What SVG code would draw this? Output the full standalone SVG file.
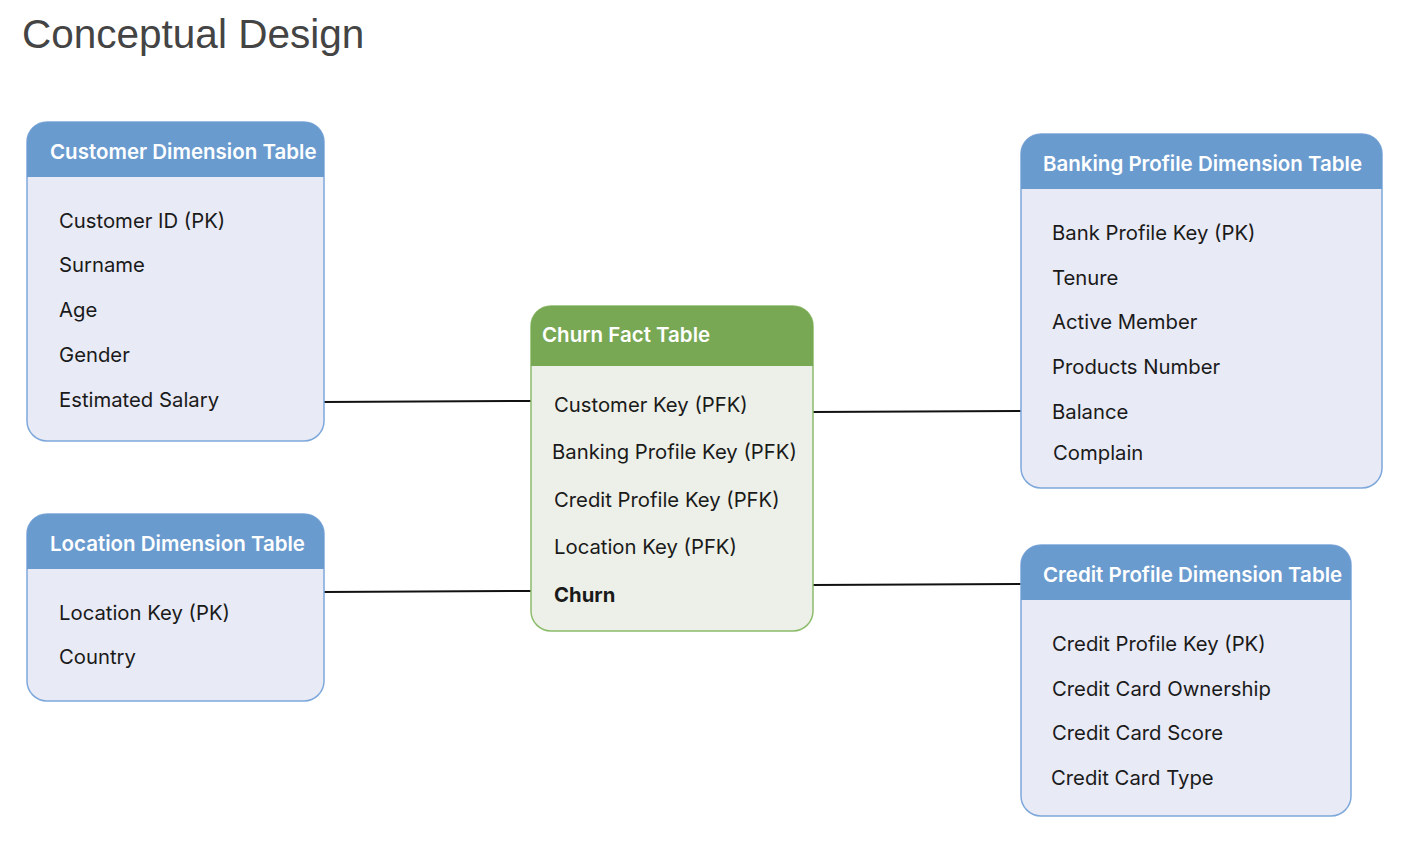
<svg xmlns="http://www.w3.org/2000/svg" width="1402" height="842" viewBox="0 0 1402 842">
<style>
.title{font-family:"Liberation Sans",Arial,sans-serif;font-size:40.5px;fill:#444}
.hb{fill:#6a9bcf}
.bb{fill:#e8eaf5;stroke:#7ea8db;stroke-width:1.5}
.hg{fill:#78a854}
.bg{fill:#edf0e8;stroke:#8cbc6c;stroke-width:1.5}
.ht{font-family:Inter,"Noto Sans",sans-serif;font-size:20.5px;font-weight:600;fill:#fff}
.it{font-family:Inter,"Noto Sans",sans-serif;font-size:20.3px;fill:#1a1a1a}
.b{font-weight:700}
.conn{stroke:#111;stroke-width:2;fill:none}
</style>
<rect width="1402" height="842" fill="#fff"/>
<text class="title" x="22" y="48">Conceptual Design</text>
<g id="connectors">
<line class="conn" x1="324" y1="402" x2="531" y2="401"/>
<line class="conn" x1="324" y1="592" x2="531" y2="591"/>
<line class="conn" x1="813" y1="412" x2="1021" y2="411"/>
<line class="conn" x1="813" y1="585" x2="1021" y2="584"/>
</g>
<g id="customer">
<rect class="bb" x="27" y="122" width="297" height="319" rx="20"/>
<path class="hb" d="M27,177 V142 A20,20 0 0 1 47,122 H304 A20,20 0 0 1 324,142 V177 Z"/>
<text class="ht" x="50" y="159">Customer Dimension Table</text>
<text class="it" x="59" y="228">Customer ID (PK)</text>
<text class="it" x="59" y="272">Surname</text>
<text class="it" x="59" y="317">Age</text>
<text class="it" x="59" y="362">Gender</text>
<text class="it" x="59" y="407">Estimated Salary</text>
</g>
<g id="location">
<rect class="bb" x="27" y="514" width="297" height="187" rx="20"/>
<path class="hb" d="M27,569 V534 A20,20 0 0 1 47,514 H304 A20,20 0 0 1 324,534 V569 Z"/>
<text class="ht" x="50" y="551">Location Dimension Table</text>
<text class="it" x="59" y="620">Location Key (PK)</text>
<text class="it" x="59" y="664">Country</text>
</g>
<g id="churn">
<rect class="bg" x="531" y="306" width="282" height="325" rx="20"/>
<path class="hg" d="M531,366 V326 A20,20 0 0 1 551,306 H793 A20,20 0 0 1 813,326 V366 Z"/>
<text class="ht" x="542" y="342">Churn Fact Table</text>
<text class="it" x="554" y="412">Customer Key (PFK)</text>
<text class="it" x="552" y="459">Banking Profile Key (PFK)</text>
<text class="it" x="554" y="507">Credit Profile Key (PFK)</text>
<text class="it" x="554" y="554">Location Key (PFK)</text>
<text class="it b" x="554" y="602">Churn</text>
</g>
<g id="banking">
<rect class="bb" x="1021" y="134" width="361" height="354" rx="20"/>
<path class="hb" d="M1021,189 V154 A20,20 0 0 1 1041,134 H1362 A20,20 0 0 1 1382,154 V189 Z"/>
<text class="ht" x="1043" y="171">Banking Profile Dimension Table</text>
<text class="it" x="1052" y="240">Bank Profile Key (PK)</text>
<text class="it" x="1052" y="285">Tenure</text>
<text class="it" x="1052" y="329">Active Member</text>
<text class="it" x="1052" y="374">Products Number</text>
<text class="it" x="1052" y="419">Balance</text>
<text class="it" x="1053" y="460">Complain</text>
</g>
<g id="credit">
<rect class="bb" x="1021" y="545" width="330" height="271" rx="20"/>
<path class="hb" d="M1021,600 V565 A20,20 0 0 1 1041,545 H1331 A20,20 0 0 1 1351,565 V600 Z"/>
<text class="ht" x="1043" y="582">Credit Profile Dimension Table</text>
<text class="it" x="1052" y="651">Credit Profile Key (PK)</text>
<text class="it" x="1052" y="696">Credit Card Ownership</text>
<text class="it" x="1052" y="740">Credit Card Score</text>
<text class="it" x="1051" y="785">Credit Card Type</text>
</g>
</svg>
